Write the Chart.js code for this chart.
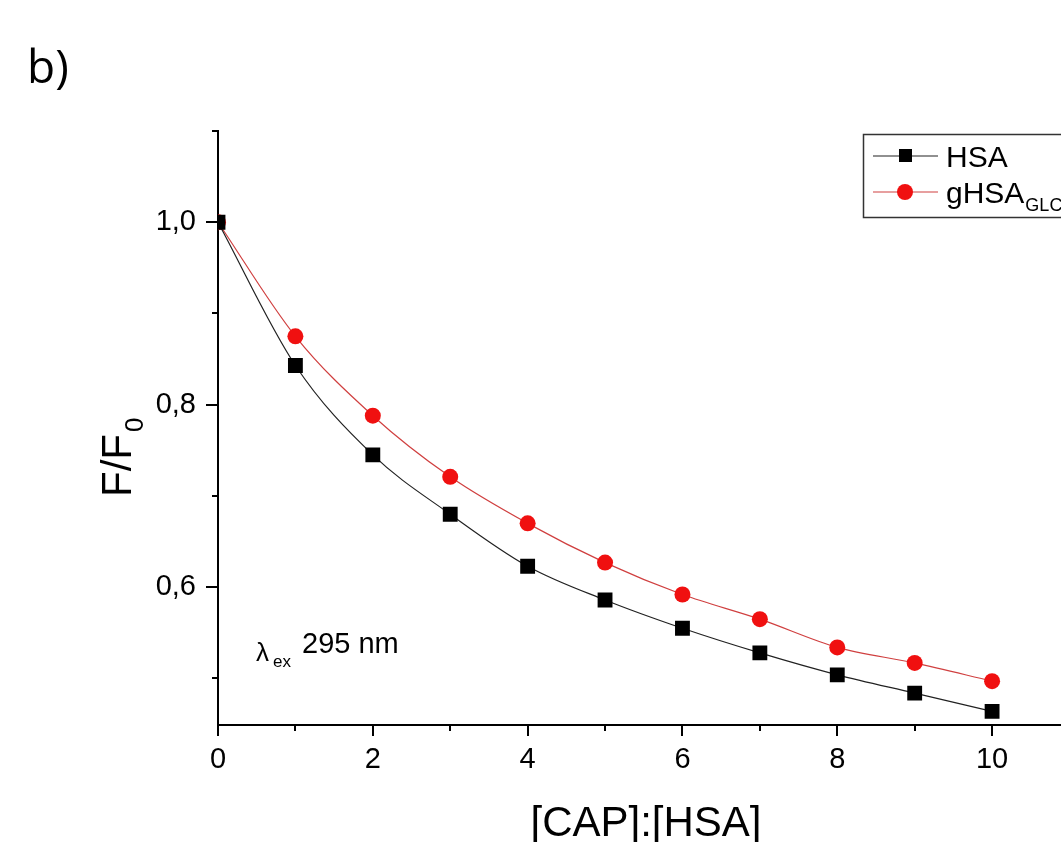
<!DOCTYPE html>
<html>
<head>
<meta charset="utf-8">
<script src="https://cdn.jsdelivr.net/npm/chart.js@4.4.0/dist/chart.umd.min.js"></script>
<style>
html,body{margin:0;padding:0;background:#fff;overflow:hidden;width:1061px;height:842px;}
#wrap{position:absolute;left:0;top:0;width:1080px;height:842px;}
</style>
</head>
<body>
<div id="wrap"><canvas id="c" width="1080" height="842"></canvas></div>
<script>
// ---- data ----
const ratios = [0,1,2,3,4,5,6,7,8,9,10];
const hsa    = [1.000,0.843,0.745,0.680,0.623,0.586,0.555,0.528,0.504,0.484,0.464];
const ghsa   = [1.000,0.875,0.788,0.721,0.670,0.627,0.592,0.565,0.534,0.517,0.497];
const xTickValues = [0,2,4,6,8,10];
const xMinorValues = [1,3,5,7,9];
const yTickValues = [0.6,0.8,1.0];
const yMinorValues = [0.5,0.7,0.9,1.1];
const seriesNames = ['HSA','gHSA'];
const seriesSub = ['', 'GLC'];

const FONT = '"Liberation Sans", Arial, sans-serif';

const decor = {
  id:'decor',
  afterDraw(chart){
    const ctx = chart.ctx;
    const xs = chart.scales.x, ys = chart.scales.y;
    const ca = chart.chartArea;
    ctx.save();
    ctx.strokeStyle = '#000';
    ctx.lineWidth = 2;
    const drawX = (v,len)=>{const p=Math.round(xs.getPixelForValue(v));ctx.beginPath();ctx.moveTo(p,ca.bottom);ctx.lineTo(p,ca.bottom+len);ctx.stroke();};
    xTickValues.forEach(v=>drawX(v,11));
    xMinorValues.forEach(v=>drawX(v,6));
    const drawY = (v,len)=>{const p=Math.round(ys.getPixelForValue(v));ctx.beginPath();ctx.moveTo(ca.left,p);ctx.lineTo(ca.left-len,p);ctx.stroke();};
    yTickValues.forEach(v=>drawY(v,12));
    yMinorValues.forEach(v=>drawY(v,6));

    // b) label
    ctx.fillStyle = '#000';
    ctx.textBaseline = 'alphabetic';
    ctx.textAlign = 'left';
    ctx.font = '46px "Open Sans", sans-serif';
    ctx.fillText('b)', 27, 83);

    // x title
    ctx.font = '42px ' + FONT;
    ctx.textAlign = 'center';
    ctx.fillText('[CAP]:[HSA]', 646, 836);

    // y title
    ctx.save();
    ctx.translate(131, 497);
    ctx.rotate(-Math.PI/2);
    ctx.textAlign = 'left';
    ctx.font = '42px ' + FONT;
    ctx.fillText('F/F', 0, 0);
    const w = ctx.measureText('F/F').width;
    ctx.font = '26px ' + FONT;
    ctx.fillText('0', w+2, 12);
    ctx.restore();

    // annotation
    ctx.textAlign = 'left';
    ctx.font = '26px ' + FONT;
    ctx.fillText('\u03bb', 256, 661);
    ctx.font = '17px ' + FONT;
    ctx.fillText('ex', 273, 667);
    ctx.font = '29px ' + FONT;
    ctx.fillText('295 nm', 302, 653);

    // legend
    ctx.lineWidth = 1.5;
    ctx.strokeStyle = '#333';
    ctx.strokeRect(863.5, 134.5, 220, 83);
    const ds = chart.data.datasets;
    const rows = [156, 192];
    ds.forEach((d,i)=>{
      const y = rows[i];
      ctx.strokeStyle = d.borderColor;
      ctx.lineWidth = 1.2;
      ctx.beginPath(); ctx.moveTo(873,y); ctx.lineTo(938,y); ctx.stroke();
      ctx.fillStyle = d.pointBackgroundColor;
      if (d.pointStyle==='rect'){ ctx.fillRect(899,y-7,13,13); }
      else { ctx.beginPath(); ctx.arc(905,y,8,0,Math.PI*2); ctx.fill(); }
      ctx.fillStyle = '#000';
      ctx.font = '30px ' + FONT;
      ctx.fillText(seriesNames[i], 946, y+11);
      if (seriesSub[i]){
        const tw = ctx.measureText(seriesNames[i]).width;
        ctx.font = '18px ' + FONT;
        ctx.fillText(seriesSub[i], 946+tw+1, y+19);
      }
    });
    ctx.restore();
  }
};

new Chart(document.getElementById('c'), {
  type:'line',
  data:{
    datasets:[
      {label:'HSA', data: ratios.map((x,i)=>({x, y:hsa[i]})), borderColor:'#222', borderWidth:1.2,
       pointStyle:'rect', pointRadius:10.5, pointBackgroundColor:'#000', pointBorderColor:'#000', pointBorderWidth:0,
       cubicInterpolationMode:'monotone'},
      {label:'gHSA', data: ratios.map((x,i)=>({x, y:ghsa[i]})), borderColor:'#d04040', borderWidth:1.2,
       pointStyle:'circle', pointRadius:8, pointBackgroundColor:'#f01010', pointBorderColor:'#f01010', pointBorderWidth:0,
       cubicInterpolationMode:'monotone'}
    ]
  },
  options:{
    responsive:false, animation:false,
    layout:{padding:{left:0, top:131, right:6, bottom:0}},
    plugins:{legend:{display:false}, tooltip:{enabled:false}},
    scales:{
      x:{type:'linear', min:0, max:11,
        afterBuildTicks:s=>{s.ticks = xTickValues.map(v=>({value:v}));},
        afterFit:s=>{s.height = 842-725;},
        grid:{display:false},
        border:{display:true, color:'#000', width:2},
        ticks:{color:'#000', font:{family:FONT, size:29}, padding:10, maxRotation:0, autoSkip:false,
          callback:v=>String(v)}},
      y:{type:'linear', min:0.449, max:1.1,
        afterBuildTicks:s=>{s.ticks = yTickValues.map(v=>({value:v}));},
        afterFit:s=>{s.width = 218;},
        grid:{display:false},
        border:{display:true, color:'#000', width:2},
        ticks:{color:'#000', font:{family:FONT, size:29}, padding:14,
          callback:v=>v.toFixed(1).replace('.', ',')}}
    }
  },
  plugins:[decor]
});
</script>
</body>
</html>
